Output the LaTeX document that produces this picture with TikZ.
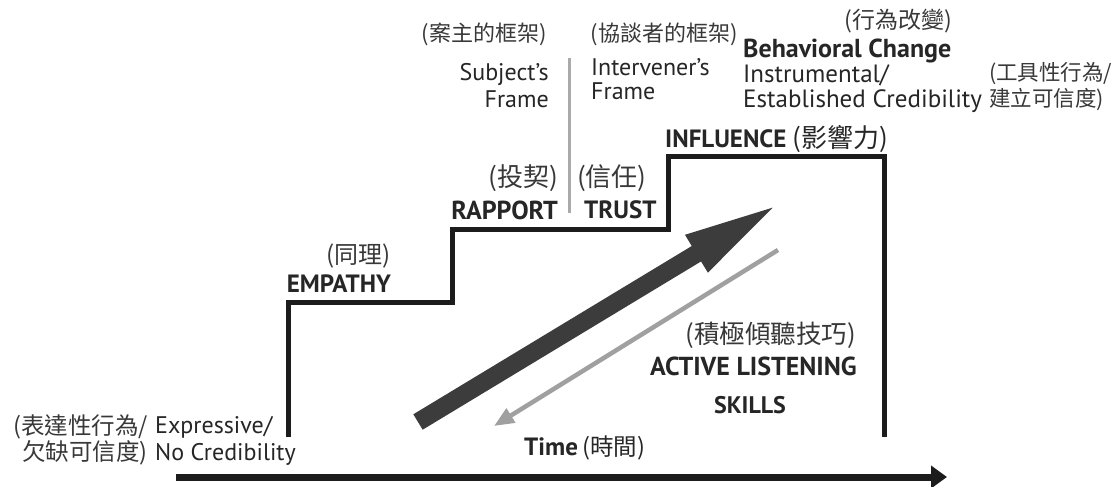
\documentclass[tikz,border=0pt]{standalone}
\usepackage{fontspec}
\setmainfont{PT Sans}
\newfontfamily\cjk{Noto Sans CJK TC}
\usetikzlibrary{arrows.meta}
\definecolor{txt}{HTML}{262626}
\definecolor{cjkc}{HTML}{383838}
\definecolor{stair}{HTML}{1C1C1C}
\definecolor{bigarrow}{HTML}{3C3C3C}
\definecolor{thinarrow}{HTML}{A0A0A0}
\begin{document}
\begin{tikzpicture}[x=1pt,y=-1pt,
  lbl/.style={inner sep=0pt, text=txt, font=\fontsize{24}{27}\selectfont},
  capsty/.style={inner sep=0pt, text=txt, font=\fontsize{25}{27}\selectfont\bfseries},
  zh/.style={inner sep=0pt, text=cjkc, font=\fontsize{22}{29}\selectfont\cjk},
  stairline/.style={line width=5pt, draw=stair, line join=miter},
  frameline/.style={line width=3pt, draw=thinarrow!90},
]
\useasboundingbox[fill=white] (0,0) rectangle (1120,487);

% staircase
\coordinate (s0) at (288,437);
\coordinate (s1) at (288,302);
\coordinate (s2) at (452,302);
\coordinate (s3) at (452,229);
\coordinate (s4) at (668,229);
\coordinate (s5) at (668,156);
\coordinate (s6) at (884,156);
\coordinate (s7) at (884,437);
\draw[stairline] (s0) -- (s1) -- (s2) -- (s3) -- (s4) -- (s5) -- (s6) -- (s7);

% frame divider
\coordinate (f0) at (569,58);
\coordinate (f1) at (569,213);
\draw[frameline] (f0) -- (f1);

% big arrow
\coordinate (ba0) at (418,422);
\coordinate (ba1) at (782,202);
\draw[line width=18pt, draw=bigarrow, -{Triangle[length=100pt,width=38pt]}] (ba0) -- (ba1);

% thin gray arrow
\coordinate (ga0) at (778,250);
\coordinate (ga1) at (494,426);
\draw[line width=4.5pt, draw=thinarrow, -{Triangle[length=20pt,width=16pt]}] (ga0) -- (ga1);

% time axis
\coordinate (t0) at (176,477);
\coordinate (t1) at (947,477);
\draw[line width=7pt, draw=stair, -{Triangle[length=16pt,width=22pt]}] (t0) -- (t1);

% labels bottom left
\node[zh, anchor=east, align=right, font=\fontsize{23.5}{26}\selectfont\cjk] (expzh) at (148,440) {(表達性行為/\\欠缺可信度)};
\node[lbl, anchor=west, align=left] (exp) at (155,441) {Expressive/\\No Credibility};

% empathy
\node[zh, anchor=east, font=\fontsize{24}{29}\selectfont\cjk] (empzh) at (391,256) {(同理)};
\node[capsty, anchor=east] (emp) at (391,284) {EMPATHY};

% rapport / trust
\node[zh, anchor=east, font=\fontsize{26}{29}\selectfont\cjk] (rapzh) at (558,178) {(投契)};
\node[capsty, anchor=east, font=\fontsize{26}{29}\selectfont\bfseries] (rap) at (558,210) {RAPPORT};
\node[zh, anchor=west, font=\fontsize{26}{29}\selectfont\cjk] (truzh) at (577,178) {(信任)};
\node[capsty, anchor=west] (tru) at (584,210) {TRUST};

% frames
\node[zh, anchor=center] (subzh) at (484,34) {(案主的框架)};
\node[lbl, anchor=east, align=right, font=\fontsize{24}{27}\selectfont] (sub) at (549,86) {Subject's\\Frame};
\node[zh, anchor=center] (intzh) at (664,34) {(協談者的框架)};
\node[lbl, anchor=west, align=left, font=\fontsize{24}{24}\selectfont] (int) at (591,79) {Intervener's\\Frame};

% influence
\node[capsty, anchor=west] (inf) at (665,139) {INFLUENCE \textmd{\fontsize{26}{27}\selectfont\cjk (影響力)}};

% behavioral change
\node[zh, anchor=center, font=\fontsize{23}{29}\selectfont\cjk] (behzh) at (898,21) {(行為改變)};
\node[capsty, anchor=west, font=\fontsize{26}{29}\selectfont\bfseries] (beh) at (743,51) {Behavioral Change};
\node[lbl, anchor=west, align=left, font=\fontsize{25}{25}\selectfont] (ins) at (743,89) {Instrumental/\\Established Credibility};
\node[zh, anchor=west, align=left, font=\fontsize{21.5}{26}\selectfont\cjk] (inszh) at (989,87) {(工具性行為/\\建立可信度)};

% active listening
\node[zh, anchor=east, font=\fontsize{25.5}{29}\selectfont\cjk] (alzh) at (856,335) {(積極傾聽技巧)};
\node[capsty, anchor=east, font=\fontsize{26}{29}\selectfont\bfseries] (al) at (857,366) {ACTIVE LISTENING};
\node[capsty, anchor=center, font=\fontsize{24}{29}\selectfont\bfseries] (sk) at (750,405) {SKILLS};

% time
\node[capsty, anchor=west] (time) at (524,448) {Time\,\textmd{\fontsize{23.5}{27}\selectfont\cjk (時間)}};
\end{tikzpicture}
\end{document}
